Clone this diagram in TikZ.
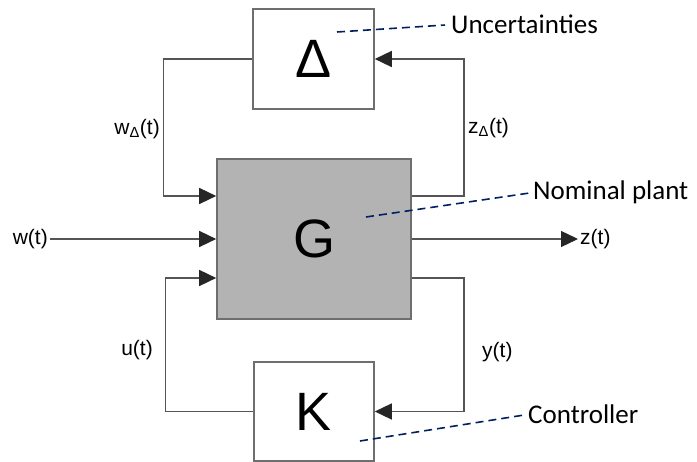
\documentclass[tikz,border=0pt]{standalone}
\usepackage{fontspec}
\setmainfont{Liberation Sans}
\newfontfamily\notefont{Carlito}
\usepackage{xcolor}
\usetikzlibrary{positioning, arrows.meta, calc}
\definecolor{plantgray}{RGB}{179,179,179}
\definecolor{linegray}{RGB}{85,85,85}
\definecolor{boxgray}{RGB}{110,110,110}
\definecolor{notenavy}{RGB}{0,32,96}

\begin{document}
\begin{tikzpicture}[
  x=1pt, y=-1pt,
  >={Triangle[length=17pt, width=16pt, color=black!85]},
  font=\fontsize{21}{25}\selectfont,
  blk/.style={draw=boxgray, line width=1.6pt, fill=white, inner sep=0pt,
    font=\fontsize{54}{60}\selectfont},
  plant/.style={blk, fill=plantgray},
  sig/.style={inner sep=2pt},
  note/.style={inner sep=2pt, font=\notefont\fontsize{27}{32}\selectfont},
  wire/.style={draw=linegray, line width=1.4pt},
  arr/.style={wire, ->},
  lead/.style={draw=notenavy, line width=1.6pt, dash pattern=on 8pt off 5pt}
]
\useasboundingbox (0,0) rectangle (697,462);

% blocks
\node[blk, minimum width=121pt, minimum height=100pt] (delta) at (313.5,59) {Δ};
\node[plant, minimum width=194pt, minimum height=160pt] (G) at (314,239) {G};
\node[blk, minimum width=120pt, minimum height=99pt] (K) at (314,411.5) {K};

% ports of G
\coordinate (gin1) at ([yshift=43pt]G.west);
\coordinate (gin3) at ([yshift=-39pt]G.west);
\coordinate (gout1) at ([yshift=43pt]G.east);
\coordinate (gout3) at ([yshift=-39pt]G.east);

% signals
\node[sig, anchor=east] (w) at (50,239) {w(t)};
\node[sig, anchor=west] (z) at (578,239) {z(t)};
\node[sig, anchor=east] (wd) at (162,129) {w\textsubscript{Δ}(t)};
\node[sig, anchor=west] (zd) at (466,128) {z\textsubscript{Δ}(t)};
\node[sig, anchor=east] (u) at (155,350) {u(t)};
\node[sig, anchor=west] (y) at (480,352) {y(t)};

\draw[arr] (delta.west) -- ++(-89,0) |- (gin1);
\draw[arr] (w.east) -- (G.west);
\draw[arr] (K.west) -- ++(-88,0) |- (gin3);
\draw[arr] (gout1) -- ++(52,0) |- (delta.east);
\draw[arr] (G.east) -- (z.west);
\draw[arr] (gout3) -- ++(52,0) |- (K.east);

% annotations
\node[note, anchor=base west] (unc) at (449,34) {Uncertainties};
\node[note, anchor=base west] (nom) at (531,200) {Nominal plant};
\node[note, anchor=base west] (ctrl) at (526,424) {Controller};
\coordinate (pD) at (337,32);
\coordinate (pG) at (366,217);
\coordinate (pK) at (360,441);
\draw[lead, shorten >=4pt] (pD) -- (unc.west);
\draw[lead, shorten >=2pt] (pG) -- (nom.west);
\draw[lead, shorten >=2pt] (pK) -- (ctrl.west);
\end{tikzpicture}
\end{document}
